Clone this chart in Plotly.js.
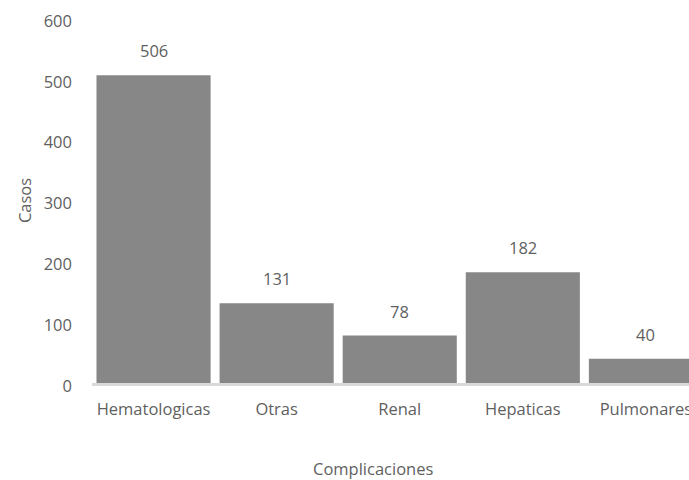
<!DOCTYPE html>
<html>
<head>
<meta charset="utf-8">
<script src="https://cdn.plot.ly/plotly-3.0.1.min.js"></script>
<style>html,body{margin:0;padding:0;background:#fff;overflow:hidden}#chart{width:689px;height:480px}</style>
</head>
<body>
<div id="chart"></div>
<script>
const categories = ["Hematologicas", "Otras", "Renal", "Hepaticas", "Pulmonares"];
const casos = [506, 131, 78, 182, 40];
const yTicks = [0, 100, 200, 300, 400, 500, 600];

const textColor = "#5f5f5f";
const fontFam = "'Open Sans', 'Liberation Sans', sans-serif";
const fs = 16.5;

const trace = {
  type: "bar",
  x: categories,
  y: casos,
  marker: { color: "#878787", line: { width: 0 } },
  hoverinfo: "x+y"
};

const labels = categories.map((c, i) => ({
  x: c, y: casos[i], xref: "x", yref: "y",
  text: String(casos[i]), showarrow: false,
  yanchor: "bottom", yshift: 11,
  font: { family: fontFam, size: fs, color: textColor }
}));

labels.push({
  xref: "paper", yref: "paper", x: 0.4707, y: -0.2356,
  xanchor: "center", yanchor: "middle",
  text: "Complicaciones", showarrow: false,
  font: { family: fontFam, size: fs, color: textColor }
});

const layout = {
  width: 689, height: 480,
  margin: { l: 92, r: 0, t: 18, b: 97, pad: 0 },
  paper_bgcolor: "#fff", plot_bgcolor: "#fff",
  bargap: 0.073,
  showlegend: false,
  font: { family: fontFam, size: fs, color: textColor },
  xaxis: {
    type: "category",
    range: [-0.5, 4.35],
    showgrid: false, zeroline: false,
    showline: true, linecolor: "#d9d9d9", linewidth: 2.5,
    ticks: "", ticklabelstandoff: 10,
    ticklabeloverflow: "allow",
    tickfont: { family: fontFam, size: fs, color: textColor },
    fixedrange: true
  },
  yaxis: {
    range: [0, 600],
    tickvals: yTicks,
    ticktext: yTicks.map(String),
    showgrid: false, zeroline: false, showline: false,
    ticks: "", ticklabelstandoff: 19, ticklabelshift: 3,
    tickfont: { family: fontFam, size: fs, color: textColor },
    title: { text: "Casos", font: { family: fontFam, size: fs, color: textColor }, standoff: 7 },
    fixedrange: true
  },
  annotations: labels
};

Plotly.newPlot("chart", [trace], layout, { displayModeBar: false, staticPlot: true });
</script>
</body>
</html>
